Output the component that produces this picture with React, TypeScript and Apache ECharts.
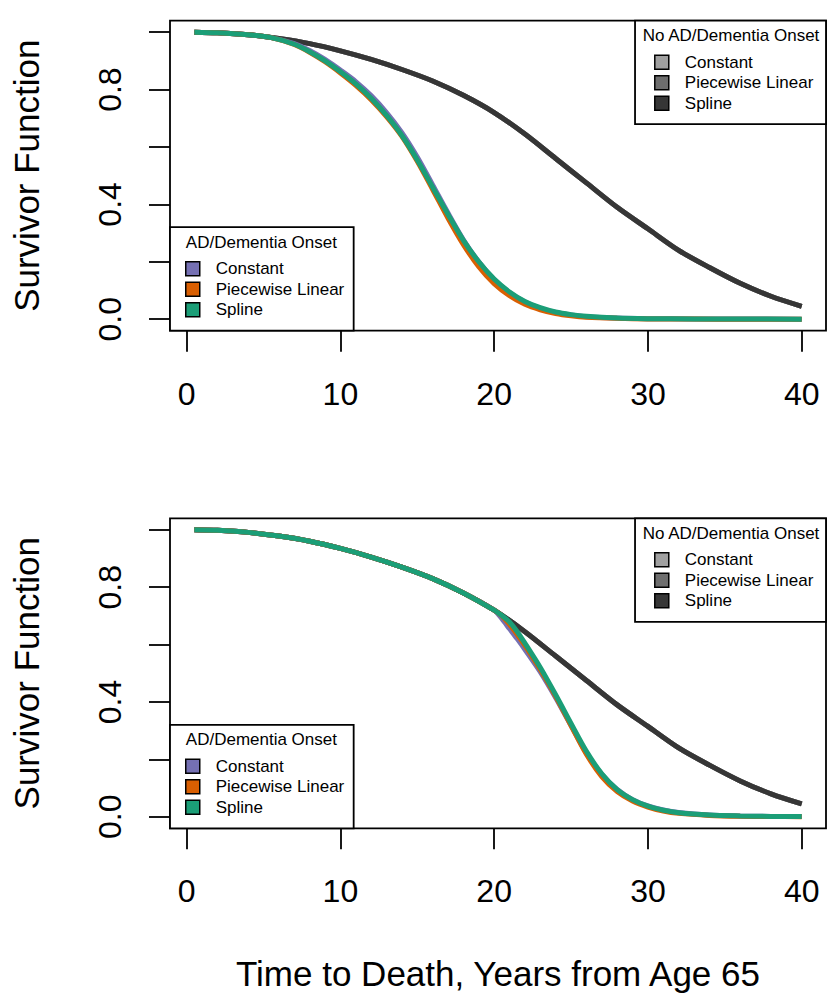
import React, { useEffect, useRef } from "react";
import * as echarts from "echarts";

// ---------- data ----------
const methods = ["Constant", "Piecewise Linear", "Spline"];
const onsetTitle = "AD/Dementia Onset";
const noOnsetTitle = "No AD/Dementia Onset";
const xAxisTitle = "Time to Death, Years from Age 65";
const yAxisTitle = "Survivor Function";

const xTicks = [0, 10, 20, 30, 40];
const yTicks = [0, 0.2, 0.4, 0.6, 0.8, 1.0];
const yTickLabels = [0, 0.4, 0.8];

// No AD/Dementia onset (all three methods overlap)
const timeNoOnset = [0.5, 2, 4, 6, 8, 10, 12, 14, 16, 18, 20, 22, 24, 26, 28, 30, 32, 34, 36, 38, 40];
const survNoOnset = [1.0, 0.998, 0.991, 0.978, 0.96, 0.935, 0.905, 0.87, 0.83, 0.78, 0.72, 0.645, 0.56, 0.475, 0.39, 0.315, 0.24, 0.18, 0.125, 0.08, 0.045];

// Top panel: onset early
const timeOnsetTop = [0.5, 2, 4, 5.5, 7, 8, 9, 10, 11, 12, 13, 14, 15, 16, 17, 18, 19, 20, 21, 22, 23, 24, 25, 26, 28, 30, 33, 36, 40];
const survTopConstant = [1.0, 0.998, 0.991, 0.981, 0.96, 0.936, 0.905, 0.868, 0.828, 0.779, 0.72, 0.65, 0.565, 0.468, 0.37, 0.277, 0.2, 0.138, 0.092, 0.06, 0.038, 0.024, 0.015, 0.009, 0.004, 0.002, 0.001, 0.0005, 0.0002];
const survTopPiecewise = [1.0, 0.998, 0.991, 0.981, 0.957, 0.93, 0.897, 0.858, 0.815, 0.765, 0.706, 0.637, 0.55, 0.452, 0.352, 0.26, 0.183, 0.124, 0.082, 0.052, 0.033, 0.02, 0.012, 0.007, 0.003, 0.001, 0.0005, 0.0002, 0.0001];
const survTopSpline = [1.0, 0.998, 0.991, 0.981, 0.958, 0.932, 0.9, 0.862, 0.82, 0.77, 0.71, 0.64, 0.555, 0.46, 0.365, 0.275, 0.2, 0.14, 0.095, 0.062, 0.04, 0.025, 0.016, 0.01, 0.004, 0.002, 0.001, 0.0005, 0.0002];

// Bottom panel: onset late
const timeOnsetBottom = [0.5, 2, 4, 6, 8, 10, 12, 14, 16, 18, 20, 20.5, 21, 21.5, 22, 23, 24, 25, 26, 27, 28, 29, 30, 31, 32, 34, 36, 38, 40];
const survBottomConstant = [1.0, 0.998, 0.991, 0.978, 0.96, 0.935, 0.905, 0.87, 0.83, 0.78, 0.72, 0.69, 0.655, 0.62, 0.583, 0.505, 0.415, 0.318, 0.222, 0.148, 0.095, 0.06, 0.038, 0.024, 0.015, 0.006, 0.003, 0.0015, 0.001];
const survBottomPiecewise = [1.0, 0.998, 0.991, 0.978, 0.96, 0.935, 0.905, 0.87, 0.83, 0.78, 0.72, 0.7, 0.67, 0.635, 0.597, 0.513, 0.42, 0.318, 0.218, 0.14, 0.088, 0.055, 0.034, 0.02, 0.012, 0.005, 0.002, 0.001, 0.0005];
const survBottomSpline = [1.0, 0.998, 0.991, 0.978, 0.96, 0.935, 0.905, 0.87, 0.83, 0.78, 0.72, 0.701, 0.679, 0.645, 0.605, 0.52, 0.425, 0.325, 0.228, 0.15, 0.095, 0.06, 0.037, 0.023, 0.014, 0.006, 0.003, 0.0015, 0.001];

const onsetColors = ["#7570B3", "#D95F02", "#1B9E77"];
const noOnsetColors = ["#A0A0A0", "#6E6E6E", "#363636"];

// ---------- layout ----------
const FONT = '"Liberation Sans", Arial, Helvetica, sans-serif';
const PLOT_LEFT = 170;
const PLOT_W = 656;
const PLOT_H = 310;
const PANEL_TOPS = [20.7, 518.3];
const LEG_H = 103.5;

const zip = (t: number[], s: number[]) => t.map((x, i) => [x, s[i]]);

function buildOption() {
  const panels = [
    { onsetT: timeOnsetTop, onset: [survTopConstant, survTopPiecewise, survTopSpline] },
    { onsetT: timeOnsetBottom, onset: [survBottomConstant, survBottomPiecewise, survBottomSpline] },
  ];

  const grid = PANEL_TOPS.map((top) => ({
    left: PLOT_LEFT,
    top,
    width: PLOT_W,
    height: PLOT_H,
    show: true,
    borderColor: "#000",
    borderWidth: 1.8,
    backgroundColor: "transparent",
  }));

  const tickLine = { color: "#000", width: 1.8 };

  const xAxis = PANEL_TOPS.map((_, i) => ({
    type: "value",
    gridIndex: i,
    position: "bottom",
    min: -1.08,
    max: 41.58,
    axisLine: { show: false, onZero: false },
    splitLine: { show: false },
    axisTick: { show: true, length: 21, lineStyle: tickLine, customValues: xTicks },
    axisLabel: {
      customValues: xTicks,
      fontSize: 32,
      color: "#000",
      fontFamily: FONT,
      margin: 47,
    },
    name: i === 1 ? xAxisTitle : "",
    nameLocation: "middle",
    nameGap: 128,
    nameTextStyle: { fontSize: 35, color: "#000", fontFamily: FONT },
  }));

  const yAxis = PANEL_TOPS.map((_, i) => ({
    type: "value",
    gridIndex: i,
    position: "left",
    min: -0.04,
    max: 1.04,
    axisLine: { show: false, onZero: false },
    splitLine: { show: false },
    axisTick: { show: true, length: 21, lineStyle: tickLine, customValues: yTicks },
    axisLabel: {
      customValues: yTickLabels,
      rotate: 90,
      formatter: (v: number) => v.toFixed(1),
      fontSize: 32,
      color: "#000",
      fontFamily: FONT,
      margin: 44.5,
    },
    name: yAxisTitle,
    nameLocation: "middle",
    nameRotate: 90,
    nameGap: 126,
    nameTextStyle: { fontSize: 35, color: "#000", fontFamily: FONT },
  }));

  const series: any[] = [];
  panels.forEach((p, i) => {
    methods.forEach((m, k) => {
      series.push({
        type: "line",
        name: m,
        xAxisIndex: i,
        yAxisIndex: i,
        data: zip(timeNoOnset, survNoOnset),
        symbol: "none",
        showSymbol: false,
        smooth: 0.3,
        lineStyle: { color: noOnsetColors[k], width: 5 },
        itemStyle: { color: noOnsetColors[k] },
        silent: true,
      });
    });
    methods.forEach((m, k) => {
      series.push({
        type: "line",
        name: m,
        xAxisIndex: i,
        yAxisIndex: i,
        data: zip(p.onsetT, p.onset[k]),
        symbol: "none",
        showSymbol: false,
        smooth: 0.3,
        lineStyle: { color: onsetColors[k], width: 5 },
        itemStyle: { color: onsetColors[k] },
        silent: true,
      });
    });
  });

  const legendBase = {
    orient: "vertical",
    icon: "rect",
    itemWidth: 14,
    itemHeight: 14,
    itemGap: 3.5,
    borderColor: "#000",
    borderWidth: 1.8,
    borderRadius: 0,
    backgroundColor: "#fff",
    selectedMode: false,
    textStyle: {
      fontSize: 17,
      color: "#000",
      fontFamily: FONT,
      padding: [0, 0, 0, 11],
    },
    itemStyle: { borderColor: "#000", borderWidth: 1.5 },
    z: 5,
  };

  const legend: any[] = [];
  const graphic: any[] = [];
  PANEL_TOPS.forEach((top) => {
    const bottom = top + PLOT_H;
    const onsetTop = bottom - LEG_H;
    legend.push({
      ...legendBase,
      left: PLOT_LEFT,
      top: onsetTop,
      padding: [33, 9.4, 12.5, 15],
      data: methods.map((m, k) => ({
        name: m,
        itemStyle: { color: onsetColors[k], borderColor: "#000", borderWidth: 1.5 },
      })),
    });
    legend.push({
      ...legendBase,
      right: 4,
      top,
      padding: [33, 12.7, 12.5, 19],
      data: methods.map((m, k) => ({
        name: m,
        itemStyle: { color: noOnsetColors[k], borderColor: "#000", borderWidth: 1.5 },
      })),
    });
    graphic.push({
      type: "text",
      x: 261.4,
      y: onsetTop + 15,
      z: 20,
      silent: true,
      style: {
        text: onsetTitle,
        align: "center",
        verticalAlign: "middle",
        fontSize: 17,
        fontFamily: FONT,
        fill: "#000",
      },
    });
    graphic.push({
      type: "text",
      x: 731,
      y: top + 15,
      z: 20,
      silent: true,
      style: {
        text: noOnsetTitle,
        align: "center",
        verticalAlign: "middle",
        fontSize: 17,
        fontFamily: FONT,
        fill: "#000",
      },
    });
  });

  return {
    animation: false,
    backgroundColor: "#fff",
    textStyle: { fontFamily: FONT },
    grid,
    xAxis,
    yAxis,
    legend,
    graphic,
    series,
  };
}

export default function App() {
  const ref = useRef<HTMLDivElement>(null);
  useEffect(() => {
    if (!ref.current) return;
    const chart = echarts.init(ref.current, undefined, { renderer: "svg" });
    chart.setOption(buildOption() as any);
    return () => chart.dispose();
  }, []);
  return (
    <div
      ref={ref}
      style={{ position: "absolute", left: 0, top: 0, width: 830, height: 995 }}
    />
  );
}
